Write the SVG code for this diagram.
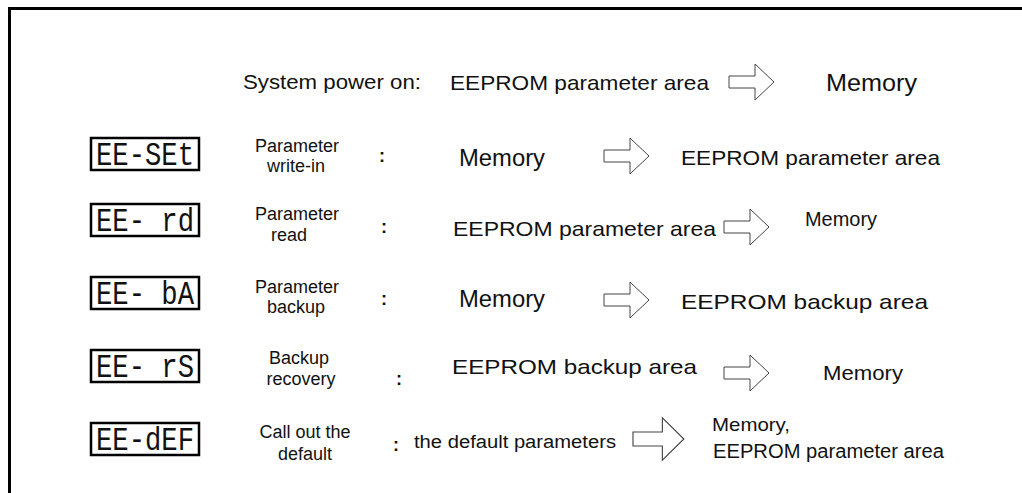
<svg xmlns="http://www.w3.org/2000/svg" xmlns:xlink="http://www.w3.org/1999/xlink" width="1022" height="493" viewBox="0 0 1022 493">
<style>
.t{font-family:"Liberation Sans",Arial,sans-serif;fill:#111}
.lab{font-size:18px;text-anchor:middle}
.big{font-size:21px}
.col{font-family:"Liberation Sans",Arial,sans-serif;font-size:18px;font-weight:bold;fill:#111}
.seg{font-family:"Liberation Mono","DejaVu Sans Mono",monospace;font-size:33px;fill:#111}
.box{fill:#fff;stroke:#000;stroke-width:2.5}
.arr{fill:#fff;stroke:#444;stroke-width:1}
</style>
<defs>
<path id="arrow" class="arr" d="M0,-6 H26 V-18 L45,0 L26,18 V6 H0 Z"/>
</defs>
<rect width="1022" height="493" fill="#fff"/>
<g id="frame"><path d="M9.5,493 V8.5 H1022" fill="none" stroke="#000" stroke-width="3"/></g>

<g id="row1">
<text class="t big" x="243" y="89" textLength="178" lengthAdjust="spacingAndGlyphs">System power on:</text>
<text class="t big" x="450" y="90" textLength="259" lengthAdjust="spacingAndGlyphs">EEPROM parameter area</text>
<text class="t" x="826" y="91" font-size="24" textLength="91" lengthAdjust="spacingAndGlyphs">Memory</text>
</g>

<g id="row2">
<rect class="box" x="91" y="138" width="108" height="32"/>
<text class="seg" x="96" y="165" textLength="98" lengthAdjust="spacingAndGlyphs">EE-SEt</text>
<text class="t lab" x="297" y="152">Parameter</text>
<text class="t lab" x="296" y="172">write-in</text>
<text class="col" x="379" y="162">:</text>
<text class="t" x="459" y="166" font-size="23" textLength="86" lengthAdjust="spacingAndGlyphs">Memory</text>
<text class="t big" x="681" y="165" textLength="259" lengthAdjust="spacingAndGlyphs">EEPROM parameter area</text>
</g>

<g id="row3">
<rect class="box" x="91" y="204" width="108" height="32"/>
<text class="seg" x="96" y="231" textLength="98" lengthAdjust="spacingAndGlyphs">EE- rd</text>
<text class="t lab" x="297" y="220">Parameter</text>
<text class="t lab" x="289" y="241">read</text>
<text class="col" x="381" y="233">:</text>
<text class="t big" x="453" y="236" textLength="263" lengthAdjust="spacingAndGlyphs">EEPROM parameter area</text>
<text class="t" x="805" y="226" font-size="20" textLength="72" lengthAdjust="spacingAndGlyphs">Memory</text>
</g>

<g id="row4">
<rect class="box" x="91" y="277" width="108" height="32"/>
<text class="seg" x="96" y="304" textLength="98" lengthAdjust="spacingAndGlyphs">EE- bA</text>
<text class="t lab" x="297" y="293">Parameter</text>
<text class="t lab" x="296" y="313">backup</text>
<text class="col" x="381" y="305">:</text>
<text class="t" x="459" y="307" font-size="23" textLength="86" lengthAdjust="spacingAndGlyphs">Memory</text>
<text class="t big" x="681" y="309" textLength="247" lengthAdjust="spacingAndGlyphs">EEPROM backup area</text>
</g>

<g id="row5">
<rect class="box" x="91" y="350" width="108" height="32"/>
<text class="seg" x="96" y="377" textLength="98" lengthAdjust="spacingAndGlyphs">EE- rS</text>
<text class="t lab" x="299" y="364">Backup</text>
<text class="t lab" x="301" y="385">recovery</text>
<text class="col" x="396" y="385">:</text>
<text class="t big" x="452" y="374" textLength="245" lengthAdjust="spacingAndGlyphs">EEPROM backup area</text>
<text class="t" x="823" y="380" font-size="21" textLength="80" lengthAdjust="spacingAndGlyphs">Memory</text>
</g>

<g id="row6">
<rect class="box" x="91" y="423" width="108" height="32"/>
<text class="seg" x="96" y="450" textLength="98" lengthAdjust="spacingAndGlyphs">EE-dEF</text>
<text class="t lab" x="305" y="438">Call out the</text>
<text class="t lab" x="305" y="460">default</text>
<text class="col" x="393" y="451">:</text>
<text class="t" x="414" y="448" font-size="18" textLength="202" lengthAdjust="spacingAndGlyphs">the default parameters</text>
<text class="t" x="712" y="431" font-size="19" textLength="78" lengthAdjust="spacingAndGlyphs">Memory,</text>
<text class="t" x="713" y="458" font-size="20" textLength="231" lengthAdjust="spacingAndGlyphs">EEPROM parameter area</text>
</g>

<g id="connectors">
<use xlink:href="#arrow" transform="translate(729,82)"/>
<use xlink:href="#arrow" transform="translate(604,156)"/>
<use xlink:href="#arrow" transform="translate(724,227)"/>
<use xlink:href="#arrow" transform="translate(604,300)"/>
<use xlink:href="#arrow" transform="translate(724,373)"/>
<use xlink:href="#arrow" transform="translate(633,439) scale(1.13,1.17)"/>
</g>
</svg>
